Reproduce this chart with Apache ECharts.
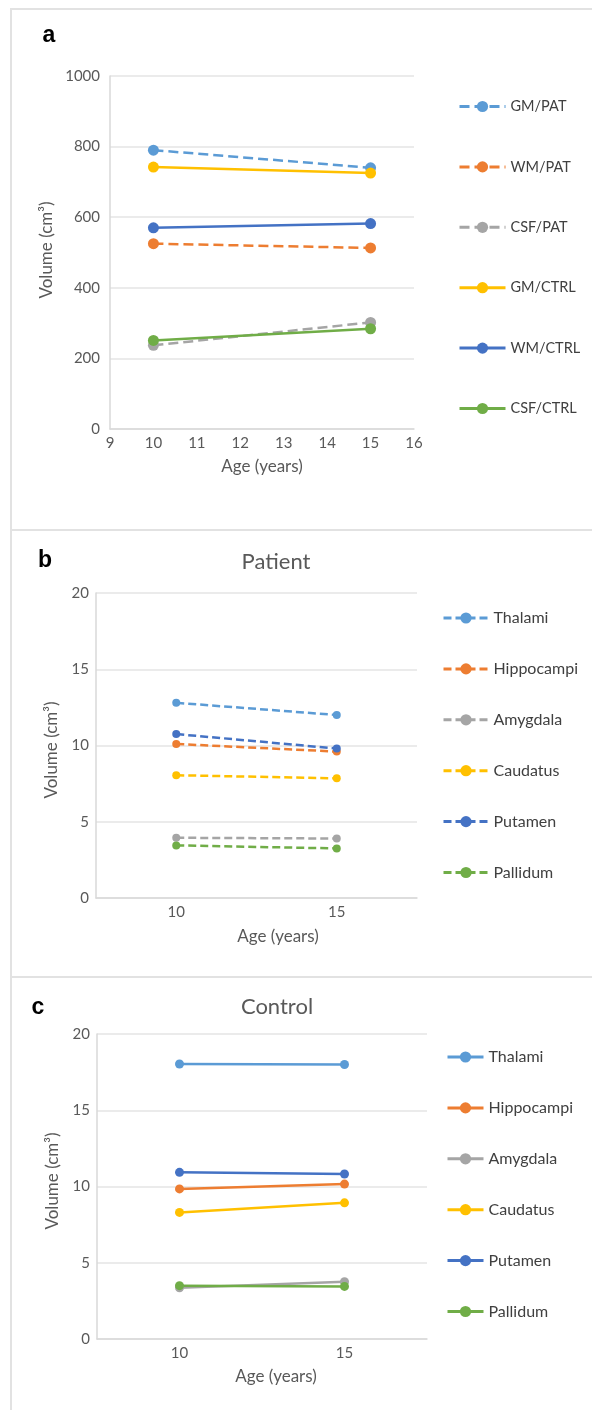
<!DOCTYPE html>
<html>
<head>
<meta charset="utf-8">
<script src="https://cdn.jsdelivr.net/npm/echarts@6/dist/echarts.min.js"></script>
<style>
  html, body { margin: 0; padding: 0; background: #fff; }
  body { width: 592px; height: 1410px; position: relative; overflow: hidden; }
  .chart { position: absolute; left: 0; width: 592px; }
  .rule { position: absolute; background: #e2e2e2; }
</style>
</head>
<body>
<div class="rule" style="left:10px;top:8px;width:582px;height:2px"></div>
<div class="rule" style="left:10px;top:529px;width:582px;height:2px"></div>
<div class="rule" style="left:10px;top:976px;width:582px;height:2px"></div>
<div class="rule" style="left:10px;top:8px;width:2px;height:1402px"></div>
<div id="ca" class="chart" style="top:0;height:529px"></div>
<div id="cb" class="chart" style="top:529px;height:447px"></div>
<div id="cc" class="chart" style="top:977px;height:433px"></div>
<script>
// ---------- data ----------
const agesA = [10, 15];
const seriesNamesA = ['GM/PAT', 'WM/PAT', 'CSF/PAT', 'GM/CTRL', 'WM/CTRL', 'CSF/CTRL'];
const gmPat = [790, 740];
const wmPat = [525, 513];
const csfPat = [237, 302];
const gmCtrl = [742, 725];
const wmCtrl = [570, 582];
const csfCtrl = [251, 284];
const yTicksA = [0, 200, 400, 600, 800, 1000];

const agesBC = ['10', '15'];
const regions = ['Thalami', 'Hippocampi', 'Amygdala', 'Caudatus', 'Putamen', 'Pallidum'];
const patThalami = [12.8, 12.0];
const patHippocampi = [10.1, 9.6];
const patAmygdala = [3.95, 3.9];
const patCaudatus = [8.05, 7.85];
const patPutamen = [10.75, 9.8];
const patPallidum = [3.45, 3.25];
const ctrlThalami = [18.03, 18.0];
const ctrlHippocampi = [9.84, 10.16];
const ctrlAmygdala = [3.36, 3.76];
const ctrlCaudatus = [8.3, 8.93];
const ctrlPutamen = [10.93, 10.82];
const ctrlPallidum = [3.5, 3.45];

// ---------- styling ----------
const FONT = 'Lato, "Open Sans", sans-serif';
const colors = ['#5B9BD5', '#ED7D31', '#A5A5A5', '#FFC000', '#4472C4', '#70AD47'];
const gridColor = '#e4e4e4';
const labelColor = '#595959';

function txt(text, x, y, opts) {
  return Object.assign({
    type: 'text', x: x, y: y,
    style: Object.assign({ text: text, align: 'center', verticalAlign: 'middle',
      fill: labelColor, font: '17px ' + FONT }, opts && opts.style)
  }, opts && opts.el);
}

function lineSeries(name, data, color, dashed, size, dash) {
  return {
    type: 'line', name: name, data: data,
    symbol: 'circle', symbolSize: size, showSymbol: true,
    itemStyle: { color: color },
    lineStyle: { color: color, width: 2.5, type: dashed ? dash : 'solid' },
    emphasis: { disabled: true }, animation: false
  };
}

const plainNum = v => String(v);

// ---------- panel a ----------
const chA = echarts.init(document.getElementById('ca'), null, { renderer: 'canvas' });
const dataA = [gmPat, wmPat, csfPat, gmCtrl, wmCtrl, csfCtrl];
chA.setOption({
  animation: false,
  textStyle: { fontFamily: FONT },
  grid: { left: 110, top: 76, width: 304, height: 353 },
  xAxis: {
    type: 'value', min: 9, max: 16, interval: 1,
    axisLine: { show: true, lineStyle: { color: '#d9d9d9', width: 1.5 } },
    axisTick: { show: false }, splitLine: { show: false },
    axisLabel: { color: labelColor, fontSize: 15, margin: 7, fontFamily: FONT, formatter: plainNum }
  },
  yAxis: {
    type: 'value', min: yTicksA[0], max: yTicksA[yTicksA.length - 1], interval: 200,
    axisLine: { show: true, lineStyle: { color: '#d9d9d9', width: 1.5 } },
    axisTick: { show: false },
    splitLine: { lineStyle: { color: gridColor, width: 1.5 } },
    axisLabel: { color: labelColor, fontSize: 15, margin: 10, fontFamily: FONT, formatter: plainNum }
  },
  legend: {
    orient: 'vertical', left: 458, top: 99, padding: 0,
    itemWidth: 46, itemHeight: 14, itemGap: 45.4,
    lineStyle: { width: 3 },
    textStyle: { color: '#404040', fontSize: 14.5, fontFamily: FONT },
    data: seriesNamesA
  },
  series: seriesNamesA.map((n, i) => lineSeries(n,
    agesA.map((a, k) => [a, dataA[i][k]]), colors[i], i < 3, 11, [10, 5])),
  graphic: [
    txt('a', 49, 36, { style: { font: 'bold 23px "Liberation Sans", Arial, sans-serif', fill: '#000' } }),
    txt('Volume (cm³)', 47, 250, { el: { rotation: Math.PI / 2 } }),
    txt('Age (years)', 262, 467)
  ]
});

// ---------- panels b and c ----------
function regionPanel(el, gridPos, legendPos, title, letter, letterPos, titlePos, yTitlePos, xTitlePos, datasets, dashed, symSize) {
  const ch = echarts.init(document.getElementById(el), null, { renderer: 'canvas' });
  ch.setOption({
    animation: false,
    textStyle: { fontFamily: FONT },
    grid: gridPos,
    xAxis: {
      type: 'category', data: agesBC, boundaryGap: true,
      axisLine: { show: true, lineStyle: { color: '#d9d9d9', width: 1.5 } },
      axisTick: { show: false }, splitLine: { show: false },
      axisLabel: { color: labelColor, fontSize: 15, margin: 7, fontFamily: FONT }
    },
    yAxis: {
      type: 'value', min: 0, max: 20, interval: 5,
      axisLine: { show: true, lineStyle: { color: '#d9d9d9', width: 1.5 } },
      axisTick: { show: false },
      splitLine: { lineStyle: { color: gridColor, width: 1.5 } },
      axisLabel: { color: labelColor, fontSize: 15, margin: 7, fontFamily: FONT }
    },
    legend: Object.assign({
      orient: 'vertical', itemHeight: 14, itemGap: 34.9, padding: 0,
      lineStyle: { width: 3 },
      textStyle: { color: '#404040', fontSize: 16, fontFamily: FONT },
      data: regions
    }, legendPos),
    series: regions.map((n, i) => lineSeries(n, datasets[i], colors[i], dashed, symSize, [8, 4])),
    graphic: [
      txt(letter, letterPos[0], letterPos[1], { style: { font: 'bold 23px "Liberation Sans", Arial, sans-serif', fill: '#000' } }),
      txt(title, titlePos[0], titlePos[1], { style: { font: '22px ' + FONT } }),
      txt('Volume (cm³)', yTitlePos[0], yTitlePos[1], { el: { rotation: Math.PI / 2 } }),
      txt('Age (years)', xTitlePos[0], xTitlePos[1])
    ]
  });
}

regionPanel('cb', { left: 96, top: 64, width: 321, height: 305 },
  { left: 442, top: 81, itemWidth: 45 },
  'Patient', 'b', [45, 32], [276, 33], [52, 221], [278, 408],
  [patThalami, patHippocampi, patAmygdala, patCaudatus, patPutamen, patPallidum], true, 8);

regionPanel('cc', { left: 97, top: 57, width: 330, height: 305 },
  { left: 446, top: 72, itemWidth: 36 },
  'Control', 'c', [38, 31], [277, 30], [53, 204], [276, 400],
  [ctrlThalami, ctrlHippocampi, ctrlAmygdala, ctrlCaudatus, ctrlPutamen, ctrlPallidum], false, 9);
</script>
</body>
</html>
